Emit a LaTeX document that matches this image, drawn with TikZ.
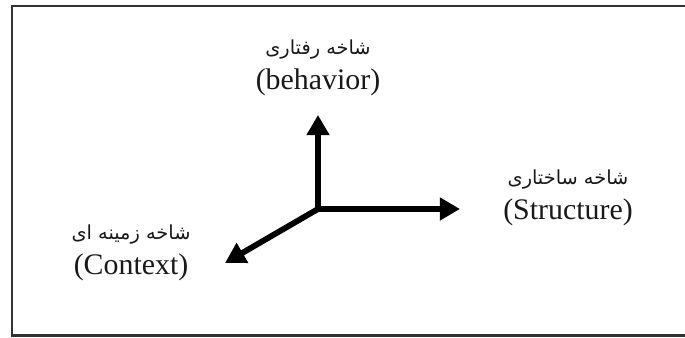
\documentclass[tikz,border=0pt]{standalone}
\usepackage{fontspec}
\setmainfont{Liberation Serif}
\newfontfamily\arabicfont[Script=Arabic]{DejaVu Sans}
\TeXXeTstate=1
\usepackage{tikz}
\usetikzlibrary{arrows.meta,positioning}
\tikzset{ax/.style={line width=3.3pt,-{Triangle[length=11.5pt,width=12.5pt]}}}
\tikzset{fa/.style={inner sep=0pt,font=\arabicfont\fontsize{11}{13}\selectfont,text=black!90}}
\tikzset{en/.style={inner sep=0pt,font=\fontsize{17}{20}\selectfont,text=black!90}}

\begin{document}
\begin{tikzpicture}
 [node distance=0.64cm]
 \useasboundingbox (0,0) rectangle (13.7,6.76);
 \draw[line width=1.3pt,black!80] (0.24,0.05) rectangle (13.9,6.64);
 % axes
 \coordinate (O) at (6.36,2.58);
 \coordinate (Up) at (6.36,4.46);
 \coordinate (Rt) at (9.2,2.58);
 \coordinate (Dl) at (4.5,1.5);
 \draw[ax] (O) -- (Up);
 \draw[ax] (O) -- (Rt);
 \draw[ax] (O) -- (Dl);
 % labels
 \node[fa] (BehFa) at (6.36,5.76) {\beginR شاخه رفتاری\endR};
 \node[en] (Beh) [below=of BehFa.center, anchor=center] {(behavior)};
 \node[fa] (StrFa) at (11.36,3.16) {\beginR شاخه ساختاری\endR};
 \node[en] (Str) [below=of StrFa.center, anchor=center] {(Structure)};
 \node[fa] (CtxFa) at (2.62,2.06) {\beginR شاخه زمینه ای\endR};
 \node[en] (Ctx) [below=of CtxFa.center, anchor=center] {(Context)};
\end{tikzpicture}
\end{document}
